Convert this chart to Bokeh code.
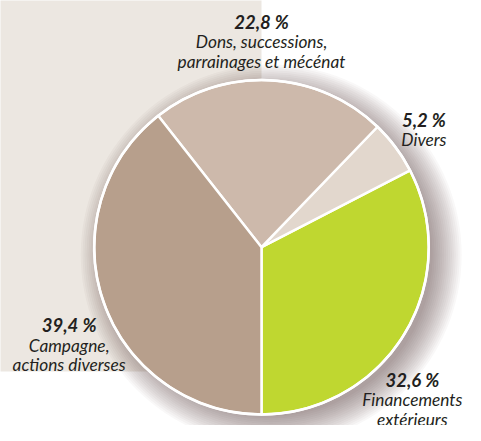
import math
from bokeh.plotting import figure
from bokeh.models import ColumnDataSource
from bokeh.core.properties import value
from bokeh.embed import file_html
from bokeh.resources import INLINE

# ---- data ----
categories = ["Financements extérieurs", "Divers",
              "Dons, successions, parrainages et mécénat",
              "Campagne, actions diverses"]
shares = [32.6, 5.2, 22.8, 39.4]
pct_labels = ["32,6 %", "5,2 %", "22,8 %", "39,4 %"]
desc_lines = [["Financements", "extérieurs"], ["Divers"],
              ["Dons, successions,", "parrainages et mécénat"],
              ["Campagne,", "actions diverses"]]
colors = ["#BFD730", "#E2D7CD", "#CDB9AB", "#B79F8C"]

# ---- layout (reference pixel coords, y measured from top) ----
W, H = 465, 425
CX, CY, R = 270, 256, 173
label_pos = [(426, 394), (438, 124), (270, 22), (71, 337)]
LINE = 20.5

def fy(Y):
    return 441 - Y

p = figure(width=W, height=H, output_backend="svg", toolbar_location=None,
           x_range=(0, 481), y_range=(0, 441),
           min_border=0, outline_line_color=None, background_fill_color="white")
p.axis.visible = False
p.grid.visible = False

# beige panel
p.quad(left=[-5], right=[270], top=[450], bottom=[fy(385)],
       fill_color="#ECE7E1", line_color=None)

# soft shadow (offset right / down)
for k in range(16):
    p.circle(x=[CX + 10], y=[fy(CY + 8)], radius=R + 24 - k * 2.0,
             fill_color="#3a2a20", fill_alpha=0.032, line_color=None)

# wedges
total = sum(shares)
start = -math.pi / 2
starts, ends = [], []
for v in shares:
    a = v / total * 2 * math.pi
    starts.append(start)
    ends.append(start + a)
    start += a
src = ColumnDataSource(dict(start=starts, end=ends, color=colors, cat=categories))
p.wedge(x=CX, y=fy(CY), radius=R, start_angle="start", end_angle="end",
        fill_color="color", line_color="white", line_width=2.5, source=src)
p.circle(x=[CX], y=[fy(CY)], radius=R, fill_color=None, line_color="white", line_width=2.5)

# labels
for (lx, ly), pct, lines in zip(label_pos, pct_labels, desc_lines):
    p.text(x=[lx], y=[fy(ly)], text=[pct], text_align="center", text_baseline="middle",
           text_font=value("Lato"), text_font_style="bold italic",
           text_font_size="18.5px", text_color="#231F20")
    for i, ln in enumerate(lines):
        p.text(x=[lx], y=[fy(ly + LINE * (i + 1))], text=[ln], text_align="center",
               text_baseline="middle", text_font=value("Lato"), text_font_style="italic",
               text_font_size="17.3px", text_color="#231F20")

open("out.html", "w").write(file_html(p, INLINE))
